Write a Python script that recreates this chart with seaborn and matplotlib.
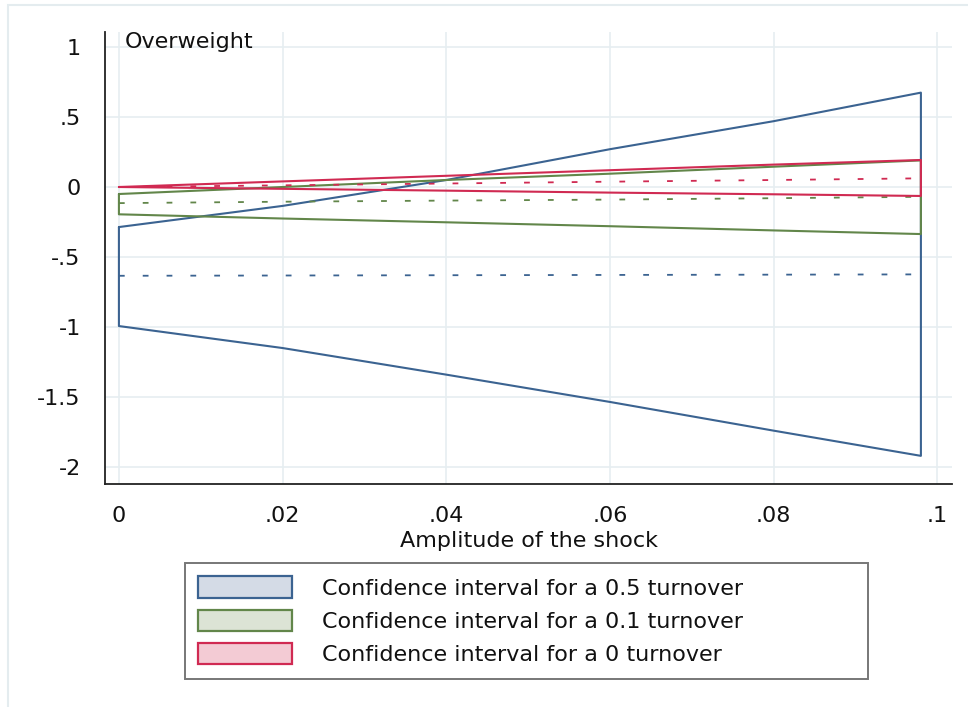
import matplotlib
matplotlib.use("Agg")
import pandas as pd
import matplotlib.pyplot as plt
import seaborn as sns
from matplotlib.patches import Patch, Rectangle

# values
shock = [0, 0.02, 0.04, 0.06, 0.08, 0.098]

upper_05 = [-0.286, -0.135, 0.05, 0.27, 0.47, 0.674]
lower_05 = [-0.993, -1.15, -1.34, -1.535, -1.74, -1.92]
est_05 = [-0.634, -0.632, -0.630, -0.628, -0.626, -0.624]

upper_01 = [-0.05, 0.0, 0.05, 0.095, 0.145, 0.19]
lower_01 = [-0.195, -0.225, -0.252, -0.28, -0.31, -0.336]
est_01 = [-0.115, -0.105, -0.097, -0.09, -0.08, -0.07]

upper_0 = [0.0, 0.04, 0.08, 0.12, 0.16, 0.193]
lower_0 = [0.0, -0.013, -0.026, -0.04, -0.052, -0.064]
est_0 = [0.0, 0.012, 0.025, 0.038, 0.05, 0.062]

labels = ["Confidence interval for a 0.5 turnover",
          "Confidence interval for a 0.1 turnover",
          "Confidence interval for a 0 turnover"]
edge_colors = ["#3b6391", "#62864a", "#d02a52"]
fill_colors = ["#d4dbe6", "#dce3d5", "#f3cbd4"]

yticks = [1, 0.5, 0, -0.5, -1, -1.5, -2]
yticklabels = ["1", ".5", "0", "-.5", "-1", "-1.5", "-2"]
xticks = [0, 0.02, 0.04, 0.06, 0.08, 0.1]
xticklabels = ["0", ".02", ".04", ".06", ".08", ".1"]

sns.set_style("white")
plt.rcParams["font.family"] = ["DejaVu Sans"]

W, H = 968, 707
fig = plt.figure(figsize=(W / 100, H / 100), dpi=100)
ax = fig.add_axes([105 / W, 1 - 484 / H, (952 - 105) / W, (484 - 32) / H])

# faint outer frame (left + top edges only visible)
fig.add_artist(Rectangle((8 / W, -0.1), 1.2, 1 - 5 / H + 0.1, transform=fig.transFigure,
                         fill=False, edgecolor="#e4ecef", linewidth=1.5))

series = [(upper_05, lower_05, est_05), (upper_01, lower_01, est_01), (upper_0, lower_0, est_0)]
for (up, lo, est), col in zip(series, edge_colors):
    poly = pd.DataFrame({
        "shock": shock + shock[::-1] + [shock[0]],
        "value": up + lo[::-1] + [up[0]],
    })
    sns.lineplot(data=poly, x="shock", y="value", sort=False, estimator=None,
                 color=col, linewidth=1.5, ax=ax)
    sns.lineplot(x=shock, y=est, color=col, linewidth=1.3,
                 linestyle=(0, (3.2, 10)), ax=ax)

ax.set_xlim(-0.0017, 0.1018)
ax.set_ylim(-2.121, 1.107)
ax.set_xticks(xticks)
ax.set_xticklabels(xticklabels)
ax.set_yticks(yticks)
ax.set_yticklabels(yticklabels)
ax.tick_params(axis="both", direction="out", length=8.5, width=1.1, color="#222222",
               labelsize=16, pad=7, labelcolor="#111111")
ax.tick_params(axis="y", pad=9)
ax.grid(True, color="#e6eef1", linewidth=1.2)
ax.set_axisbelow(True)
for s in ["top", "right"]:
    ax.spines[s].set_visible(False)
for s in ["left", "bottom"]:
    ax.spines[s].set_color("#222222")
    ax.spines[s].set_linewidth(1.3)

ax.set_xlabel("Amplitude of the shock", fontsize=16, labelpad=4, color="#111111")
ax.set_ylabel("")

ax.text((125 - 105) / 847, (484 - 42) / 452, "Overweight", transform=ax.transAxes,
        fontsize=16, va="center", ha="left", color="#111111")

handles = [Patch(facecolor=f, edgecolor=e, linewidth=1.6) for f, e in zip(fill_colors, edge_colors)]
leg = fig.legend(handles, labels, loc="upper left",
                 bbox_to_anchor=(185 / W, 0, (868 - 185) / W, 1 - 563 / H),
                 mode="expand", fontsize=16, frameon=True, fancybox=False,
                 handlelength=4.2, handleheight=1.1, handletextpad=1.35,
                 labelspacing=0.5, borderpad=0.6, borderaxespad=0)
leg.get_frame().set_edgecolor("#555555")
leg.get_frame().set_linewidth(1.4)
for t in leg.get_texts():
    t.set_color("#111111")

fig.savefig("out.png", dpi=100)
